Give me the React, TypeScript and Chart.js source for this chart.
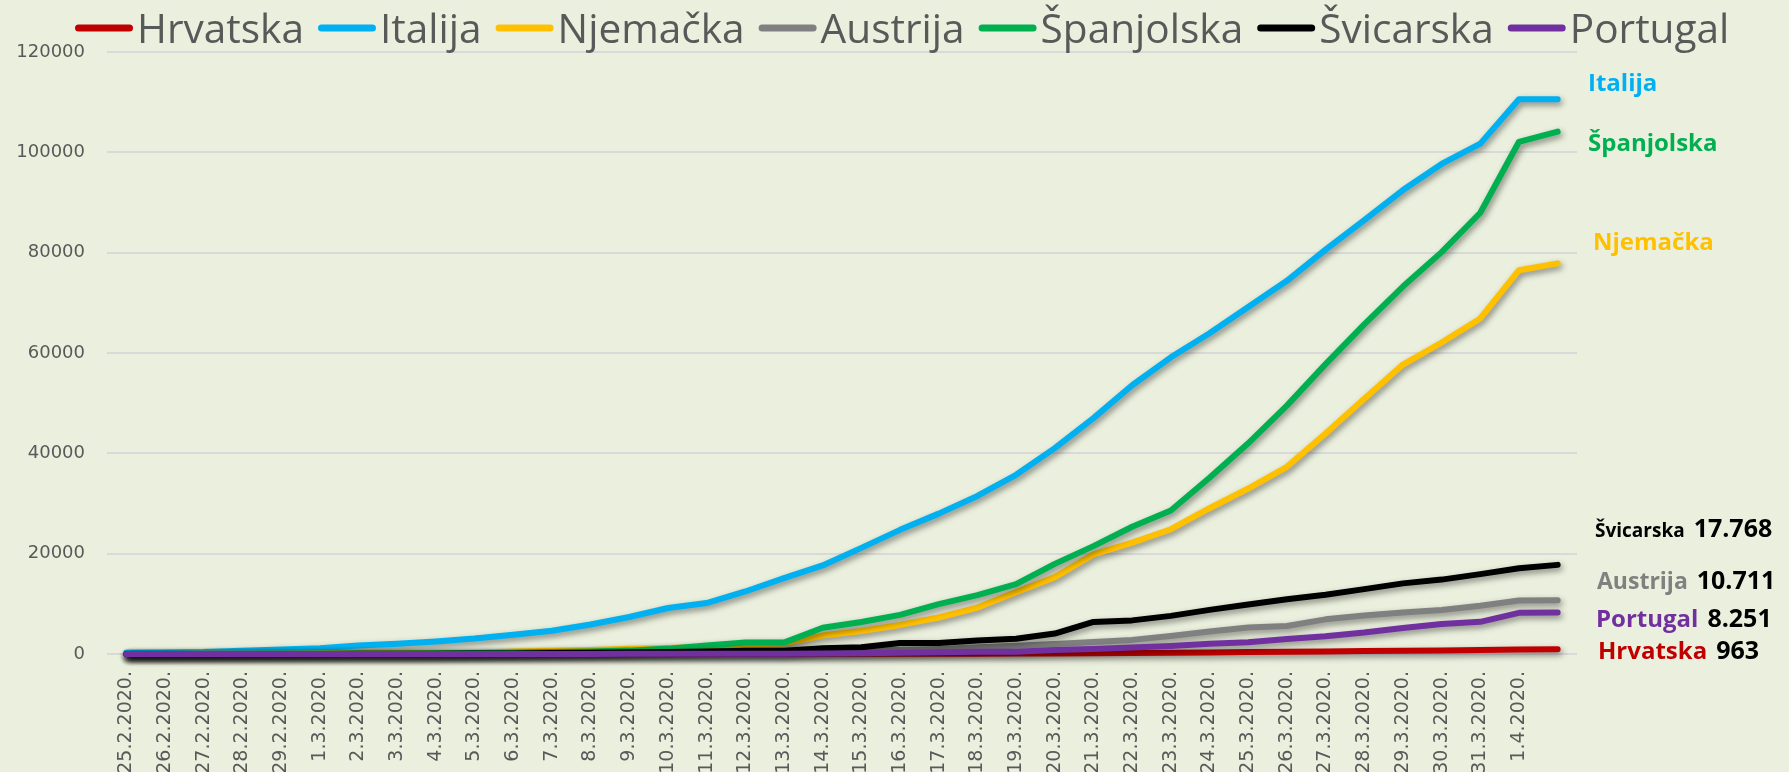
import React, { useEffect, useRef } from 'react';
import { Chart, registerables } from 'chart.js';

Chart.register(...registerables);

// ---------- data ----------
const categories: string[] = [
  '25.2.2020.', '26.2.2020.', '27.2.2020.', '28.2.2020.', '29.2.2020.',
  '1.3.2020.', '2.3.2020.', '3.3.2020.', '4.3.2020.', '5.3.2020.', '6.3.2020.',
  '7.3.2020.', '8.3.2020.', '9.3.2020.', '10.3.2020.', '11.3.2020.', '12.3.2020.',
  '13.3.2020.', '14.3.2020.', '15.3.2020.', '16.3.2020.', '17.3.2020.', '18.3.2020.',
  '19.3.2020.', '20.3.2020.', '21.3.2020.', '22.3.2020.', '23.3.2020.', '24.3.2020.',
  '25.3.2020.', '26.3.2020.', '27.3.2020.', '28.3.2020.', '29.3.2020.', '30.3.2020.',
  '31.3.2020.', '1.4.2020.', '',
];

const hrvatska = [0, 1, 3, 3, 5, 7, 7, 7, 9, 10, 10, 11, 12, 12, 12, 14, 19, 19, 32, 38, 49, 57, 65, 81, 105, 128, 206, 254, 315, 382, 442, 495, 586, 657, 713, 790, 900, 963];
const italija = [229, 322, 400, 650, 888, 1128, 1694, 2036, 2502, 3089, 3858, 4636, 5883, 7375, 9172, 10149, 12462, 15113, 17660, 21157, 24747, 27980, 31506, 35713, 41035, 47021, 53578, 59138, 63927, 69176, 74386, 80589, 86498, 92472, 97689, 101739, 110574, 110574];
const njemacka = [16, 17, 27, 46, 48, 79, 130, 159, 196, 262, 482, 670, 799, 1040, 1176, 1457, 1908, 2078, 3675, 4585, 5795, 7272, 9257, 12327, 15320, 19848, 22213, 24873, 29056, 32986, 37323, 43938, 50871, 57695, 62095, 66885, 76500, 77872];
const austrija = [0, 2, 2, 3, 3, 9, 14, 18, 21, 29, 41, 55, 79, 104, 131, 182, 246, 302, 504, 655, 860, 1018, 1332, 1646, 2013, 2388, 2814, 3582, 4474, 5283, 5588, 6909, 7657, 8271, 8788, 9618, 10650, 10711];
const spanjolska = [2, 6, 13, 15, 32, 45, 84, 120, 165, 222, 259, 400, 500, 673, 1073, 1695, 2277, 2277, 5232, 6391, 7798, 9942, 11748, 13910, 17963, 21500, 25374, 28603, 35136, 42000, 49515, 57786, 65719, 73235, 80110, 87956, 102100, 104118];
const svicarska = [0, 1, 1, 8, 8, 18, 27, 42, 56, 90, 114, 214, 268, 337, 374, 491, 652, 652, 1139, 1359, 2200, 2200, 2700, 3028, 4075, 6400, 6700, 7600, 8795, 9877, 10897, 11811, 12928, 14076, 14829, 15922, 17100, 17768];
const portugal = [0, 0, 0, 0, 0, 0, 0, 2, 4, 5, 8, 13, 20, 30, 30, 41, 59, 59, 112, 169, 245, 331, 448, 448, 785, 1020, 1280, 1600, 2060, 2362, 2995, 3544, 4268, 5170, 5962, 6408, 8200, 8251];

const seriesNames = ['Hrvatska', 'Italija', 'Njemačka', 'Austrija', 'Španjolska', 'Švicarska', 'Portugal'];
const seriesData = [hrvatska, italija, njemacka, austrija, spanjolska, svicarska, portugal];
const seriesColors = ['#C00000', '#00B0F0', '#FFC000', '#808080', '#00B050', '#000000', '#7030A0'];

const yMin = 0;
const yMax = 120000;
const yStep = 20000;

// ---------- layout / style ----------
const W = 1789;
const H = 772;
const BG = '#EBF0DE';
const TEXT = '#595959';
const TICK_FONT = '"DejaVu Sans", sans-serif';
const LABEL_FONT = '"Open Sans", "Noto Sans", sans-serif';

// end-of-line annotations (series index, placement)
const endLabels = [
  { idx: 1, x: 1588, y: 82, size: 24, value: false },
  { idx: 4, x: 1588, y: 142, size: 24, value: false },
  { idx: 2, x: 1593, y: 241, size: 24, value: false },
  { idx: 5, x: 1595, y: 528, size: 19, value: true, nameColor: '#000000' },
  { idx: 3, x: 1597, y: 580, size: 23, value: true },
  { idx: 6, x: 1596, y: 618, size: 24, value: true },
  { idx: 0, x: 1598, y: 650, size: 24, value: true },
];

const fmtThousands = (v: number) => String(v).replace(/\B(?=(\d{3})+(?!\d))/g, '.');

const shadowPlugin = {
  id: 'lineShadow',
  beforeDatasetDraw(chart: any) {
    const c = chart.ctx;
    c.save();
    c.shadowColor = 'rgba(0,0,0,0.45)';
    c.shadowBlur = 6;
    c.shadowOffsetX = 2;
    c.shadowOffsetY = 3;
  },
  afterDatasetDraw(chart: any) {
    chart.ctx.restore();
  },
};

const legendPlugin = {
  id: 'topLegend',
  afterDraw(chart: any) {
    const c = chart.ctx as CanvasRenderingContext2D;
    c.save();
    c.font = `40.6px ${LABEL_FONT}`;
    const markerW = 58;
    const gap = 4;
    const itemGap = 14;
    const cy = 28;
    const base = 43;
    let x = 75;
    seriesNames.forEach((name, i) => {
      c.strokeStyle = seriesColors[i];
      c.lineWidth = 7;
      c.lineCap = 'round';
      c.beginPath();
      c.moveTo(x + 3.5, cy);
      c.lineTo(x + markerW - 3.5, cy);
      c.stroke();
      c.fillStyle = TEXT;
      c.textBaseline = 'alphabetic';
      c.textAlign = 'left';
      c.fillText(name, x + markerW + gap, base);
      x += markerW + gap + c.measureText(name).width + itemGap;
    });
    c.restore();
  },
};

const endLabelPlugin = {
  id: 'endLabels',
  afterDraw(chart: any) {
    const c = chart.ctx as CanvasRenderingContext2D;
    c.save();
    c.textAlign = 'left';
    c.textBaseline = 'alphabetic';
    endLabels.forEach((l) => {
      const name = seriesNames[l.idx];
      c.font = `bold ${l.size}px ${LABEL_FONT}`;
      c.fillStyle = (l as any).nameColor || seriesColors[l.idx];
      const baseline = l.y + 0.36 * 25;
      c.fillText(name, l.x, baseline);
      if (l.value) {
        const w = c.measureText(name).width;
        const d = seriesData[l.idx];
        c.font = `bold 25px ${LABEL_FONT}`;
        c.fillStyle = '#000000';
        c.fillText(fmtThousands(d[d.length - 1]), l.x + w + 9, baseline);
      }
    });
    c.restore();
  },
};

export default function App() {
  const ref = useRef<HTMLCanvasElement>(null);

  useEffect(() => {
    if (!ref.current) return;
    const chart = new Chart(ref.current, {
      type: 'line',
      data: {
        labels: categories,
        datasets: seriesNames.map((name, i) => ({
          label: name,
          data: seriesData[i],
          borderColor: seriesColors[i],
          backgroundColor: seriesColors[i],
          borderWidth: 6,
          pointRadius: 0,
          pointHoverRadius: 0,
          tension: 0,
          borderCapStyle: 'round',
          borderJoinStyle: 'round',
          clip: false,
          order: seriesNames.length - i,
        })) as any,
      },
      options: {
        animation: false,
        responsive: false,
        devicePixelRatio: 1,
        events: [],
        layout: { padding: { left: 0, right: W - 1577, top: 52, bottom: 0 } },
        plugins: {
          legend: { display: false },
          tooltip: { enabled: false },
        },
        scales: {
          x: {
            type: 'category',
            offset: true,
            grid: { display: false, drawTicks: false },
            border: { display: false },
            ticks: {
              autoSkip: false,
              maxRotation: 90,
              minRotation: 90,
              padding: 17,
              color: TEXT,
              font: { family: TICK_FONT, size: 19 },
            },
            afterFit: (s: any) => {
              s.height = H - 654;
            },
          },
          y: {
            min: yMin,
            max: yMax,
            ticks: {
              stepSize: yStep,
              padding: 22,
              color: TEXT,
              font: { family: TICK_FONT, size: 18 },
              callback: (v: any) => String(v),
            },
            grid: { color: '#D9D9D9', lineWidth: 2, drawTicks: false },
            border: { display: false },
            afterFit: (s: any) => {
              s.width = 107;
            },
          },
        },
      },
      plugins: [shadowPlugin, legendPlugin, endLabelPlugin],
    });
    return () => chart.destroy();
  }, []);

  return (
    <div
      style={{
        position: 'fixed',
        left: 0,
        top: 0,
        width: W,
        height: H,
        overflow: 'hidden',
        background: BG,
      }}
    >
      <canvas ref={ref} width={W} height={H} style={{ display: 'block' }} />
    </div>
  );
}
